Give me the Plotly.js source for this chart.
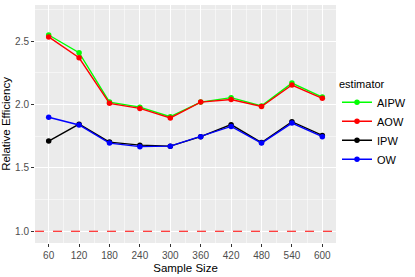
<!DOCTYPE html>
<html>
<head>
<meta charset="utf-8">
<script src="https://cdn.plot.ly/plotly-3.0.1.min.js"></script>
<style>html,body{margin:0;padding:0;background:#fff;}#chart{width:415px;height:277px;}</style>
</head>
<body>
<div id="chart"></div>
<script>
var sampleSize = [60, 120, 180, 240, 300, 360, 420, 480, 540, 600];
var aipw = [2.55, 2.41, 2.02, 1.98, 1.905, 2.02, 2.055, 1.99, 2.17, 2.06];
var aow  = [2.535, 2.37, 2.01, 1.97, 1.895, 2.02, 2.04, 1.985, 2.155, 2.05];
var ipw  = [1.712, 1.846, 1.704, 1.68, 1.672, 1.747, 1.842, 1.70, 1.865, 1.757];
var ow   = [1.90, 1.839, 1.696, 1.668, 1.672, 1.747, 1.828, 1.696, 1.854, 1.747];
var seriesNames = ['AIPW', 'AOW', 'IPW', 'OW'];
var seriesColors = ['#00FF00', '#FF0000', '#000000', '#0000FF'];
var referenceLine = 1.0;
var yTicks = [1.0, 1.5, 2.0, 2.5];

var values = [aipw, aow, ipw, ow];
var traces = values.map(function(v, i) {
  return {
    x: sampleSize, y: v, name: seriesNames[i], type: 'scatter', mode: 'lines+markers',
    line: {color: seriesColors[i], width: 1.4},
    marker: {color: seriesColors[i], size: 5.5}
  };
});

var layout = {
  width: 415, height: 277,
  margin: {l: 35, r: 78, t: 5, b: 34},
  paper_bgcolor: '#ffffff',
  plot_bgcolor: '#ebebeb',
  font: {family: 'Liberation Sans, Arial, sans-serif', size: 10, color: '#4d4d4d'},
  xaxis: {
    range: [33, 627], tickmode: 'array', tickvals: sampleSize, ticktext: sampleSize.map(String),
    showgrid: true, gridcolor: '#ffffff', gridwidth: 1.1, zeroline: false,
    ticks: 'outside', ticklen: 3, tickcolor: '#333333', tickwidth: 1,
    tickfont: {size: 10, color: '#4d4d4d'},
    minor: {tickmode: 'array', tickvals: [90,150,210,270,330,390,450,510,570], showgrid: true, gridcolor: '#ffffff', gridwidth: 0.5, ticks: ''},
    title: {text: 'Sample Size', font: {size: 11.5, color: '#000000'}, standoff: 3}
  },
  yaxis: {
    range: [0.907, 2.787], tickmode: 'array', tickvals: yTicks, ticktext: yTicks.map(function(t){return t.toFixed(1);}),
    showgrid: true, gridcolor: '#ffffff', gridwidth: 1.1, zeroline: false,
    ticks: 'outside', ticklen: 3, tickcolor: '#333333', tickwidth: 1,
    tickfont: {size: 10, color: '#4d4d4d'},
    minor: {tickmode: 'array', tickvals: [1.25, 1.75, 2.25, 2.75], showgrid: true, gridcolor: '#ffffff', gridwidth: 0.5, ticks: ''},
    title: {text: 'Relative Efficiency', font: {size: 11.5, color: '#000000'}, standoff: 5}
  },
  shapes: [{
    type: 'line', xref: 'paper', x0: 0, x1: 1, yref: 'y', y0: referenceLine, y1: referenceLine,
    line: {color: '#FF0000', width: 1.1, dash: 'dash'}
  }],
  legend: {
    x: 1.0, xanchor: 'left', y: 0.5, yanchor: 'middle',
    bgcolor: 'rgba(0,0,0,0)', itemwidth: 30,
    font: {size: 11, color: '#000000'},
    title: {text: 'estimator', font: {size: 11, color: '#000000'}},
    tracegroupgap: 0
  },
  showlegend: true
};

Plotly.newPlot('chart', traces, layout, {displayModeBar: false, staticPlot: true});
</script>
</body>
</html>
